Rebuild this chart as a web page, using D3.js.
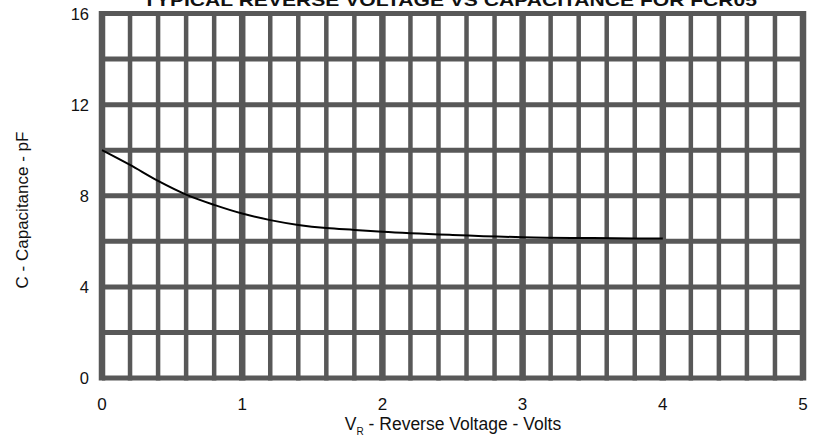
<!DOCTYPE html>
<html>
<head>
<meta charset="utf-8">
<script src="https://cdn.jsdelivr.net/npm/d3@7"></script>
<style>
  html, body { margin: 0; padding: 0; background: #fff; }
  svg { display: block; }
  text { font-family: "Liberation Sans", Arial, sans-serif; fill: #111; }
</style>
</head>
<body>
<svg id="chart" width="819" height="441"></svg>
<script>
// ---- data ----
const voltage     = [0, 0.2, 0.4, 0.6, 0.8, 1.0, 1.2, 1.4, 1.6, 1.8, 2.0, 2.5, 3.0, 3.5, 4.0];
const capacitance = [10.0, 9.35, 8.65, 8.05, 7.6, 7.22, 6.93, 6.72, 6.58, 6.5, 6.42, 6.28, 6.18, 6.14, 6.12];
const xTickLabels = [0, 1, 2, 3, 4, 5];
const yTickLabels = [0, 4, 8, 12, 16];
const xMinorStep = 0.2;
const yGridStep = 2;
const chartTitle = "TYPICAL REVERSE VOLTAGE VS CAPACITANCE FOR FCR05";
const yTitle = "C - Capacitance - pF";

// ---- layout ----
const svg = d3.select("#chart");
const plotLeft = 102, plotRight = 803, plotTop = 13.5, plotBottom = 378;
const x = d3.scaleLinear().domain([0, 5]).range([plotLeft, plotRight]);
const y = d3.scaleLinear().domain([0, 16]).range([plotBottom, plotTop]);
const gridColor = "#585858";

// horizontal grid
const hLines = d3.range(0, 16 + 1e-9, yGridStep);
svg.append("g").selectAll("line").data(hLines).join("line")
  .attr("x1", x(0)).attr("x2", x(5))
  .attr("y1", d => y(d)).attr("y2", d => y(d))
  .attr("stroke", gridColor)
  .attr("stroke-width", 5);

// vertical grid
const vLines = d3.range(0, 5 + 1e-9, xMinorStep).map(v => Math.round(v * 10) / 10);
svg.append("g").selectAll("line").data(vLines).join("line")
  .attr("x1", d => x(d)).attr("x2", d => x(d))
  .attr("y1", y(16) - 2.5).attr("y2", y(0) + 2.5)
  .attr("stroke", gridColor)
  .attr("stroke-width", d => (Math.abs(d - Math.round(d)) < 1e-6) ? 6.5 : 4.5);

// curve
const pts = voltage.map((v, i) => [v, capacitance[i]]);
svg.append("path")
  .datum(pts)
  .attr("fill", "none")
  .attr("stroke", "#000")
  .attr("stroke-width", 2)
  .attr("d", d3.line().x(d => x(d[0])).y(d => y(d[1])).curve(d3.curveMonotoneX));

// x tick labels
svg.append("g").selectAll("text").data(xTickLabels).join("text")
  .attr("x", d => x(d)).attr("y", 410)
  .attr("text-anchor", "middle")
  .attr("font-size", 17)
  .text(d => d);

// y tick labels
svg.append("g").selectAll("text").data(yTickLabels).join("text")
  .attr("x", 89).attr("y", d => y(d) + 6)
  .attr("text-anchor", "end")
  .attr("font-size", 16.5)
  .text(d => d);

// x axis title
const xt = svg.append("text")
  .attr("x", 453).attr("y", 430)
  .attr("text-anchor", "middle")
  .attr("font-size", 17.5);
xt.append("tspan").text("V");
xt.append("tspan").attr("font-size", 10).attr("dy", 5).text("R");
xt.append("tspan").attr("dy", -5).text(" - Reverse Voltage - Volts");

// y axis title
svg.append("text")
  .attr("transform", "translate(28,210) rotate(-90)")
  .attr("text-anchor", "middle")
  .attr("font-size", 17)
  .text(yTitle);

// chart title (clipped at the top)
svg.append("text")
  .attr("x", 450).attr("y", 6)
  .attr("text-anchor", "middle")
  .attr("font-size", 17)
  .attr("font-weight", "bold")
  .attr("textLength", 614)
  .attr("lengthAdjust", "spacingAndGlyphs")
  .text(chartTitle);
</script>
</body>
</html>
